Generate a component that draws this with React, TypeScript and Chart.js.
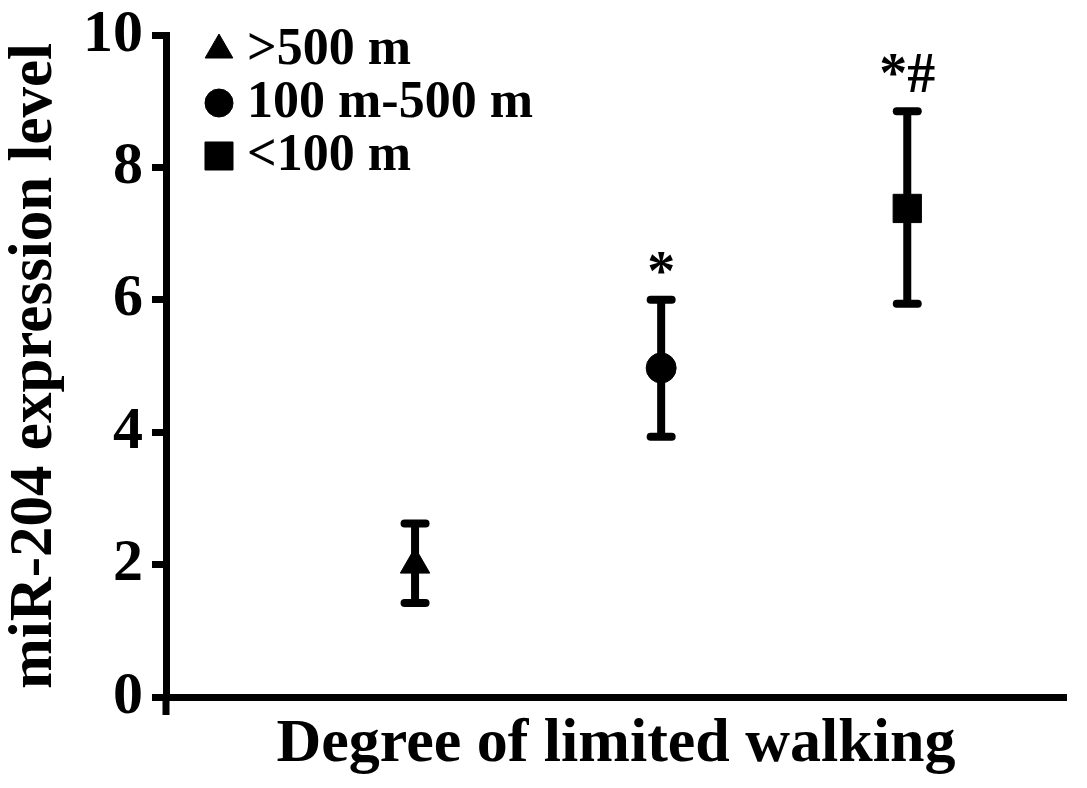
import React, { useEffect, useRef } from 'react';
import { Chart, registerables } from 'chart.js';
import { drawPoint } from 'chart.js/helpers';

Chart.register(...registerables);

// ---- data ----
const groups = ['>500 m', '100 m-500 m', '<100 m'];
const groupX = [1, 2, 3];
const means = [2.0, 4.97, 7.38];
const errLow = [1.42, 3.93, 5.94];
const errHigh = [2.62, 6.0, 8.85];
const sigLabels = ['', '*', '*#'];
const sigY: (number | null)[] = [null, 6.15, 9.14];
const yTicks = [0, 2, 4, 6, 8, 10];
const xTitle = 'Degree of limited walking';
const yTitle = 'miR-204 expression level';

// ---- styles ----
const pointStyles = ['triangle', 'circle', 'rect'];
const pointRadii = [17, 15, 20];
const legendRadii = [16, 14, 19.8];
const FONT = "'Liberation Serif', 'Times New Roman', serif";
const INK = '#000000';

const roundCapPlugin = {
  id: 'roundCaps',
  beforeDatasetDraw(chart: any, args: any) {
    const ds = chart.data.datasets[args.index];
    if (ds && ds.roundCaps) {
      chart.ctx.save();
      chart.ctx.lineCap = 'round';
    }
  },
  afterDatasetDraw(chart: any, args: any) {
    const ds = chart.data.datasets[args.index];
    if (ds && ds.roundCaps) chart.ctx.restore();
  },
};

const axisExtPlugin = {
  id: 'axisExt',
  afterDraw(chart: any) {
    const { ctx, chartArea } = chart;
    ctx.save();
    ctx.strokeStyle = INK;
    ctx.lineWidth = 7;
    ctx.beginPath();
    ctx.moveTo(chartArea.left, chartArea.bottom);
    ctx.lineTo(chartArea.left, chartArea.bottom + 18);
    ctx.stroke();
    ctx.restore();
  },
};

const legendPlugin = {
  id: 'insideLegend',
  afterDraw(chart: any) {
    const { ctx, chartArea } = chart;
    ctx.save();
    ctx.fillStyle = INK;
    ctx.strokeStyle = INK;
    ctx.font = `bold 52px ${FONT}`;
    ctx.textBaseline = 'middle';
    ctx.textAlign = 'left';
    let row = 0;
    chart.data.datasets.forEach((ds: any) => {
      if (ds.legendRadius === undefined) return;
      const cx = chartArea.left + 53;
      const cy = chartArea.top + 15 + row * 53;
      ctx.lineWidth = 1;
      drawPoint(ctx, { pointStyle: ds.pointStyle, radius: ds.legendRadius, rotation: 0, borderWidth: 1 } as any, cx, cy);
      ctx.fillText(ds.label, cx + 28, cy + 1);
      row++;
    });
    ctx.restore();
  },
};

const sigPlugin = {
  id: 'sigMarks',
  afterDatasetsDraw(chart: any) {
    const { ctx, scales } = chart;
    ctx.save();
    ctx.fillStyle = INK;
    ctx.font = `bold 56px ${FONT}`;
    ctx.textAlign = 'center';
    ctx.textBaseline = 'alphabetic';
    sigLabels.forEach((t, i) => {
      const yv = sigY[i];
      if (!t || yv === null) return;
      ctx.fillText(t, scales.x.getPixelForValue(groupX[i]), scales.y.getPixelForValue(yv));
    });
    ctx.restore();
  },
};

export default function App() {
  const ref = useRef<HTMLCanvasElement | null>(null);

  useEffect(() => {
    document.body.style.margin = '0';
    document.body.style.overflow = 'hidden';
    const canvas = ref.current;
    if (!canvas) return;

    const meanSets = groups.map((g, i) => ({
      type: 'scatter' as const,
      label: g,
      data: [{ x: groupX[i], y: means[i] }],
      pointStyle: pointStyles[i],
      pointRadius: pointRadii[i],
      backgroundColor: INK,
      borderColor: INK,
      borderWidth: 1,
      legendRadius: legendRadii[i],
      order: 0,
    }));

    const lineData: any[] = [];
    groupX.forEach((x, i) => {
      lineData.push({ x, y: errLow[i] }, { x, y: errHigh[i] }, { x, y: null });
    });
    const capData: any[] = [];
    groupX.forEach((x, i) => {
      capData.push({ x, y: errLow[i] }, { x, y: errHigh[i] });
    });

    const chart = new Chart(canvas, {
      type: 'scatter',
      data: {
        datasets: [
          ...meanSets,
          {
            type: 'line',
            label: 'err',
            data: lineData,
            borderColor: INK,
            borderWidth: 8,
            pointRadius: 0,
            spanGaps: false,
            fill: false,
            order: 1,
          } as any,
          {
            type: 'scatter',
            label: 'caps',
            data: capData,
            pointStyle: 'line',
            pointRadius: 10.5,
            borderColor: INK,
            backgroundColor: INK,
            borderWidth: 8,
            roundCaps: true,
            order: 1,
          } as any,
        ],
      },
      options: {
        responsive: false,
        animation: false,
        events: [],
        layout: { padding: { left: 0, top: 35, right: 14, bottom: 0 } },
        plugins: {
          legend: { display: false },
          tooltip: { enabled: false },
        },
        scales: {
          x: {
            type: 'linear',
            min: -0.012,
            max: 3.645,
            offset: false,
            grid: { display: false },
            ticks: { display: false },
            border: { display: true, color: INK, width: 7 },
            title: {
              display: true,
              text: xTitle,
              color: INK,
              font: { family: FONT, size: 62, weight: 'bold', lineHeight: 1.2 },
              padding: { top: 0, bottom: 6 },
            },
            afterFit: (s: any) => {
              s.height = 91;
            },
          },
          y: {
            type: 'linear',
            min: 0,
            max: 10,
            afterBuildTicks: (s: any) => {
              s.ticks = yTicks.map((v) => ({ value: v }));
            },
            grid: {
              display: true,
              drawOnChartArea: false,
              drawTicks: true,
              tickLength: 14,
              tickWidth: 7,
              tickColor: INK,
            },
            border: { display: true, color: INK, width: 7 },
            ticks: {
              color: INK,
              padding: 9,
              font: { family: FONT, size: 60, weight: 'bold', lineHeight: 0.8 },
            },
            title: {
              display: true,
              text: yTitle,
              color: INK,
              font: { family: FONT, size: 61, weight: 'bold', lineHeight: 1.15 },
              padding: { top: 0, bottom: 0 },
            },
            afterFit: (s: any) => {
              s.width = 166;
            },
          },
        },
      } as any,
      plugins: [roundCapPlugin, axisExtPlugin, legendPlugin, sigPlugin],
    });

    return () => chart.destroy();
  }, []);

  return (
    <div style={{ width: 1087, height: 788, background: '#fff' }}>
      <canvas ref={ref} width={1087} height={788} style={{ display: 'block', width: 1087, height: 788 }} />
    </div>
  );
}
